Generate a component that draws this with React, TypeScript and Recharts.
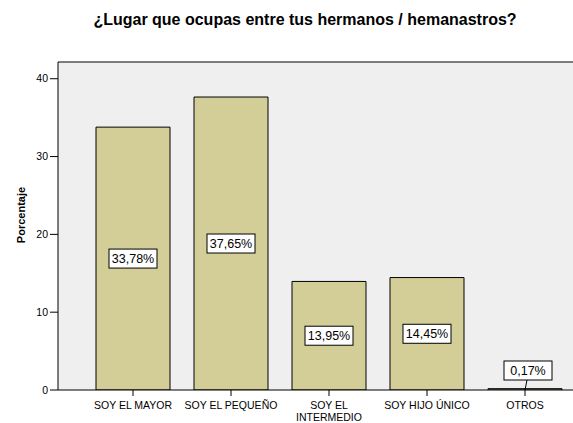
import { BarChart, Bar, XAxis, YAxis, CartesianGrid, ReferenceLine, LabelList } from 'recharts'

const categories = ['SOY EL MAYOR', 'SOY EL PEQUEÑO', 'SOY EL INTERMEDIO', 'SOY HIJO ÚNICO', 'OTROS']
const tickLines = [['SOY EL MAYOR'], ['SOY EL PEQUEÑO'], ['SOY EL', 'INTERMEDIO'], ['SOY HIJO ÚNICO'], ['OTROS']]
const percentages = [33.78, 37.65, 13.95, 14.45, 0.17]
const yTicks = [0, 10, 20, 30, 40]

const data = categories.map((c, i) => ({ name: c, value: percentages[i] }))

const FONT = "Arial, 'Liberation Sans', sans-serif"
const Y_MAX = 42.15

const XTick = (props: any) => {
    const { x, y, index } = props
    const lines = tickLines[index] || [props.payload.value]
    return (
        <g>
            {lines.map((l: string, i: number) => (
                <text key={i} x={x} y={y + 11 + i * 12} textAnchor="middle" fontSize={10.5} fontFamily={FONT} fill="#000">
                    {l}
                </text>
            ))}
        </g>
    )
}

const ValueLabel = (props: any) => {
    const { x, y, width, height, value } = props
    const text = Number(value).toFixed(2).replace('.', ',') + '%'
    const cx = x + width / 2
    const bw = 48
    const bh = 19
    if (value < 2) {
        const by = y + height - bh - 10
        return (
            <g>
                <line x1={cx + 2} y1={by + bh} x2={cx} y2={y + height} stroke="#000" strokeWidth={1} />
                <rect x={cx + 3 - bw / 2} y={by} width={bw} height={bh} fill="#fff" stroke="#000" strokeWidth={1} />
                <text x={cx + 3} y={by + 14} textAnchor="middle" fontSize={12.5} fontFamily={FONT} fill="#000">
                    {text}
                </text>
            </g>
        )
    }
    const cy = y + height / 2
    return (
        <g>
            <rect x={cx - bw / 2} y={cy - bh / 2} width={bw} height={bh} fill="#fff" stroke="#000" strokeWidth={1} />
            <text x={cx} y={cy + 4.5} textAnchor="middle" fontSize={12.5} fontFamily={FONT} fill="#000">
                {text}
            </text>
        </g>
    )
}

const YLabel = (props: any) => {
    const { viewBox } = props
    const x = viewBox.x + 21
    const y = viewBox.y + viewBox.height / 2 - 11
    return (
        <text x={x} y={y} transform={`rotate(-90 ${x} ${y})`} textAnchor="middle" dominantBaseline="central" fontSize={11} fontWeight="bold" fontFamily={FONT} fill="#000">
            Porcentaje
        </text>
    )
}

export default function App() {
    return (
        <div style={{ position: 'absolute', left: 0, top: 0, width: 573, height: 423, overflow: 'hidden', background: '#fff' }}>
            <div style={{ position: 'absolute', left: 0, top: 11, width: 610, textAlign: 'center', fontFamily: FONT, fontWeight: 'bold', fontSize: 16, lineHeight: '18px' }}>
                ¿Lugar que ocupas entre tus hermanos / hemanastros?
            </div>
            <BarChart width={600} height={423} data={data} margin={{ top: 62, right: 0, bottom: 0, left: 0 }} barSize={74}>
                <CartesianGrid fill="#efefef" horizontal={false} vertical={false} />
                <XAxis
                    dataKey="name"
                    interval={0}
                    height={33}
                    padding={{ left: 26, right: 26 }}
                    axisLine={{ stroke: '#000' }}
                    tickLine={{ stroke: '#000' }}
                    tickSize={6}
                    tick={<XTick />}
                />
                <YAxis
                    width={58}
                    domain={[0, Y_MAX]}
                    ticks={yTicks}
                    allowDataOverflow
                    axisLine={{ stroke: '#000' }}
                    tickLine={{ stroke: '#000' }}
                    tickSize={8}
                    tickMargin={2}
                    tick={{ fontSize: 10.5, fontFamily: FONT, fill: '#000' }}
                    label={<YLabel />}
                />
                <ReferenceLine y={Y_MAX} stroke="#555" strokeWidth={1.5} />
                <Bar dataKey="value" fill="#d3ce98" stroke="#000" strokeWidth={1} isAnimationActive={false}>
                    <LabelList dataKey="value" content={<ValueLabel />} />
                </Bar>
            </BarChart>
        </div>
    )
}
